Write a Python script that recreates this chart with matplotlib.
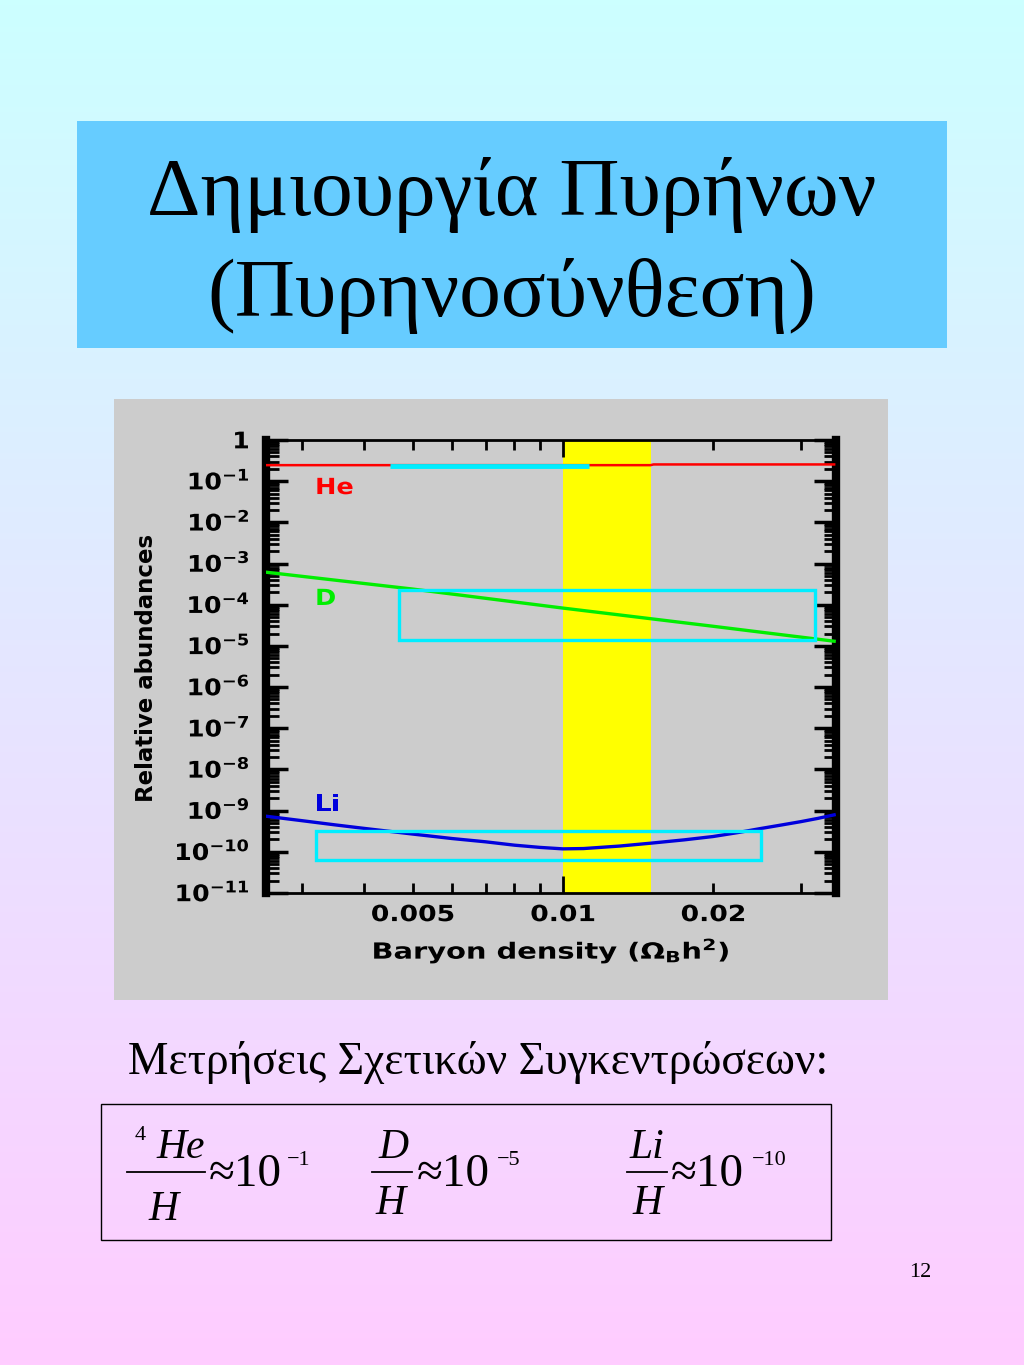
import numpy as np
import matplotlib
matplotlib.use("Agg")
import matplotlib.pyplot as plt
from matplotlib.patches import Rectangle, PathPatch
from matplotlib.lines import Line2D
from matplotlib.textpath import TextPath
from matplotlib.font_manager import FontProperties
from matplotlib.transforms import Affine2D, IdentityTransform

plt.rcParams['mathtext.fontset'] = 'dejavusans'
plt.rcParams['mathtext.default'] = 'bf'

# ---------------- data ----------------
he_x = [0.0025, 0.005, 0.01, 0.015, 0.0152, 0.02, 0.03, 0.035]
he_y = [0.245, 0.245, 0.245, 0.245, 0.255, 0.255, 0.255, 0.255]

d_x = [0.0025, 0.005, 0.01, 0.02, 0.035]
d_y = [6.3e-4, 2.4e-4, 8.3e-5, 3.0e-5, 1.3e-5]

li_x = [0.0025, 0.003, 0.0035, 0.004, 0.005, 0.006, 0.007, 0.008, 0.009, 0.01,
        0.011, 0.013, 0.015, 0.0175, 0.02, 0.0225, 0.025, 0.0275, 0.03, 0.0325, 0.035]
li_y = [7.5e-10, 5.7e-10, 4.5e-10, 3.7e-10, 2.7e-10, 2.1e-10, 1.75e-10, 1.45e-10,
        1.28e-10, 1.18e-10, 1.2e-10, 1.38e-10, 1.62e-10, 1.95e-10, 2.35e-10, 2.95e-10,
        3.7e-10, 4.5e-10, 5.4e-10, 6.5e-10, 7.9e-10]

he_obs_x = [0.0045, 0.0113]
he_obs_y = [0.24, 0.24]
d_box_x = [0.0047, 0.032]
d_box_y = [1.4e-5, 2.3e-4]
li_box_x = [0.0032, 0.025]
li_box_y = [6.4e-11, 3.2e-10]
band_x = [0.01, 0.015]

series_names = ['He', 'D', 'Li']
series_colors = ['#ff0000', '#00ee00', '#0000dd']
series_label_y = [0.076, 1.55e-4, 1.6e-9]

x_tick_vals = [0.005, 0.01, 0.02]
x_tick_labels = ['0.005', '0.01', '0.02']
y_tick_vals = [10.0 ** e for e in range(-11, 1)]
y_tick_labels = ['1' if e == 0 else r'$10^{-%d}$' % (-e) for e in range(-11, 1)]

title_lines = ["Δημιουργία Πυρήνων", "(Πυρηνοσύνθεση)"]
subtitle = "Μετρήσεις Σχετικών Συγκεντρώσεων:"
page_no = "12"

# ---------------- figure ----------------
W, H = 1024, 1365
DPI = 100
fig = plt.figure(figsize=(W / DPI, H / DPI), dpi=DPI)

def fx(px):
    return px / W

def fy(py):
    return 1 - py / H

BOLD = FontProperties(family='DejaVu Sans', weight='bold')

def stretched_text(xd, yd, s, size, sx=1.0, ha='center', va='center', color='black'):
    """Draw text as a path, horizontally stretched, at display pixel (xd, yd)."""
    em = size * DPI / 72.0
    tp = TextPath((0, 0), s, size=em, prop=BOLD)
    ext = tp.get_extents()
    w = ext.width * sx
    dx = {'left': 0, 'center': -w / 2, 'right': -w}[ha]
    if va == 'digits':
        dy = -0.729 * em / 2
    elif va == 'center':
        dy = -(ext.y0 + ext.height / 2)
    elif va == 'top':
        dy = -ext.y1
    else:
        dy = -ext.y0
    tr = Affine2D().scale(sx, 1).translate(dx - ext.x0 * sx, dy).translate(xd, yd)
    patch = PathPatch(tr.transform_path(tp), facecolor=color, edgecolor='none',
                      transform=IdentityTransform(), zorder=5)
    fig.patches.append(patch)

# background gradient
bg = fig.add_axes([0, 0, 1, 1], zorder=0)
top = np.array([204, 255, 255]) / 255
bot = np.array([255, 204, 255]) / 255
t = np.linspace(0, 1, 256)[:, None, None]
grad = top[None, None, :] * (1 - t) + bot[None, None, :] * t
bg.imshow(grad, aspect='auto', extent=[0, 1, 0, 1], origin='upper')
bg.set_xlim(0, 1); bg.set_ylim(0, 1)
bg.axis('off')

# title box
fig.patches.append(Rectangle((fx(77), fy(348)), fx(947) - fx(77), fy(121) - fy(348),
                             transform=fig.transFigure, facecolor='#66ccff',
                             edgecolor='none', zorder=1))
serif = ['Liberation Serif', 'DejaVu Serif']
fig.text(fx(512), fy(215), title_lines[0], ha='center', va='baseline',
         fontsize=60, family=serif, zorder=3)
fig.text(fx(512), fy(316), title_lines[1], ha='center', va='baseline',
         fontsize=60, family=serif, zorder=3)

# gray panel
fig.patches.append(Rectangle((fx(114), fy(1000)), fx(888) - fx(114), fy(399) - fy(1000),
                             transform=fig.transFigure, facecolor='#cccccc',
                             edgecolor='none', zorder=1))

# chart
ax = fig.add_axes([fx(266), fy(893), fx(836) - fx(266), fy(440) - fy(893)], zorder=2)
ax.set_facecolor('#cccccc')
ax.set_xscale('log'); ax.set_yscale('log')
ax.set_xlim(0.00254, 0.0353)
ax.set_ylim(1e-11, 1)

ax.axvspan(band_x[0], band_x[1], color='#ffff00', zorder=1, lw=0)
ax.plot(he_x, he_y, color=series_colors[0], lw=1.8, zorder=3)
ax.plot(he_obs_x, he_obs_y, color='#00eeff', lw=3.5, zorder=4, solid_capstyle='butt')
ax.plot(d_x, d_y, color=series_colors[1], lw=2.4, zorder=3)
ax.plot(li_x, li_y, color=series_colors[2], lw=2.4, zorder=3)
for bx, by in [(d_box_x, d_box_y), (li_box_x, li_box_y)]:
    ax.add_patch(Rectangle((bx[0], by[0]), bx[1] - bx[0], by[1] - by[0],
                           fill=False, edgecolor='#00eeff', lw=2.4, zorder=4))

# series labels (stretched bold, left-aligned)
for name, col, ly in zip(series_names, series_colors, series_label_y):
    xd, yd = ax.transData.transform((0.00322, ly))
    stretched_text(xd, yd, name, 16, sx=1.15, ha='left', va='center', color=col)

# y ticks
ax.set_yticks(y_tick_vals)
ax.yaxis.set_major_formatter(matplotlib.ticker.NullFormatter())
ax.yaxis.set_minor_locator(matplotlib.ticker.LogLocator(base=10, subs=np.arange(2, 10), numticks=50))
ax.yaxis.set_minor_formatter(matplotlib.ticker.NullFormatter())
ax.tick_params(axis='y', which='major', direction='in', length=16, width=2.5,
               left=True, right=True)
ax.tick_params(axis='y', which='minor', direction='in', length=9, width=2,
               left=True, right=True)

# x ticks
ax.set_xticks([0.01])
ax.xaxis.set_major_formatter(matplotlib.ticker.NullFormatter())
minor_x = [0.003, 0.004, 0.005, 0.006, 0.007, 0.008, 0.009, 0.02, 0.03]
ax.set_xticks(minor_x, minor=True)
ax.xaxis.set_minor_formatter(matplotlib.ticker.NullFormatter())
ax.tick_params(axis='x', which='major', direction='in', length=12, width=2,
               top=True, bottom=True)
ax.tick_params(axis='x', which='minor', direction='in', length=7, width=2,
               top=True, bottom=True)

for s in ['left', 'right']:
    ax.spines[s].set_linewidth(6)
for s in ['top', 'bottom']:
    ax.spines[s].set_linewidth(2)

ax.set_ylabel('Relative abundances', fontsize=16.5, fontweight='bold')
ax.yaxis.set_label_coords(-0.19, 0.497)

for v, s in zip(y_tick_vals, y_tick_labels):
    _, yd = ax.transData.transform((0.01, v))
    stretched_text(248, yd, s, 16.5, sx=1.1, ha='right', va='digits')

for v, s in zip(x_tick_vals, x_tick_labels):
    xd, _ = ax.transData.transform((v, 1e-11))
    stretched_text(xd, H - 913, s, 16, sx=1.2)
stretched_text(551, H - 951, r'Baryon density ($\Omega_B h^2$)', 16, sx=1.3)

# subtitle
fig.text(fx(128), fy(1074), subtitle, ha='left', va='baseline', fontsize=32.8,
         family=serif, zorder=3)

# formula box
fig.patches.append(Rectangle((fx(101), fy(1240)), fx(831) - fx(101), fy(1104) - fy(1240),
                             transform=fig.transFigure, facecolor='none',
                             edgecolor='black', lw=1.0, zorder=2))

def frac(num, num_x, den_x, x0, x1, sup_text, approx_x, exp_x, den_base, pre=None):
    fig.text(fx(num_x), fy(1158), num, ha='center', va='baseline', fontsize=30,
             family=serif, style='italic', zorder=3)
    fig.text(fx(den_x), fy(den_base), 'H', ha='center', va='baseline', fontsize=30,
             family=serif, style='italic', zorder=3)
    fig.lines.append(Line2D([fx(x0), fx(x1)], [fy(1172), fy(1172)],
                            transform=fig.transFigure, color='black', lw=1.3, zorder=3))
    fig.text(fx(approx_x), fy(1186), '≈10', ha='left', va='baseline', fontsize=34,
             family=serif, zorder=3)
    fig.text(fx(exp_x), fy(1165), sup_text, ha='left', va='baseline', fontsize=16,
             family=serif, zorder=3)
    if pre:
        fig.text(fx(pre[0]), fy(pre[1]), pre[2], ha='center', va='baseline', fontsize=16,
                 family=serif, zorder=3)

frac('He', 181, 163, 127, 205, '−1', 209, 287, 1220, pre=(140, 1140, '4'))
frac('D', 393, 390, 372, 412, '−5', 417, 497, 1214)
frac('Li', 647, 647, 627, 667, '−10', 671, 752, 1214)

fig.text(fx(920), fy(1277), page_no, ha='center', va='baseline', fontsize=16,
         family=serif, zorder=3)

fig.savefig('out.png', dpi=DPI)
